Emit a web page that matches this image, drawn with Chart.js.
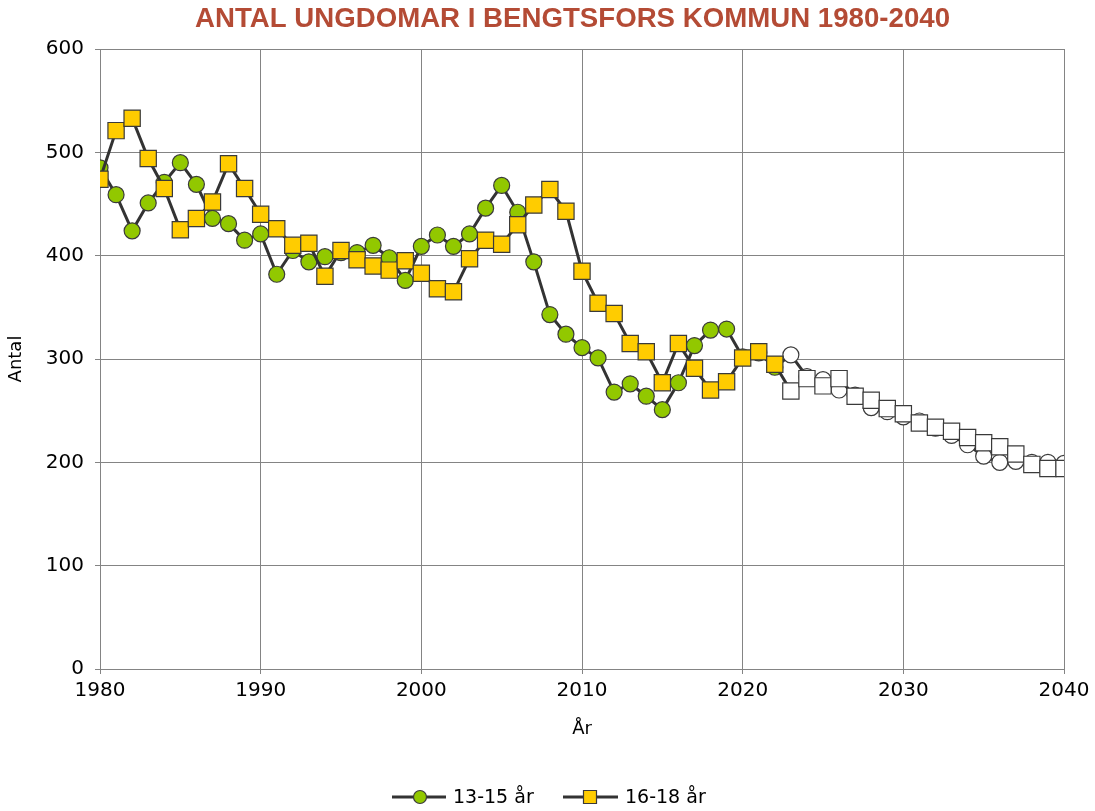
<!DOCTYPE html>
<html><head><meta charset="utf-8">
<script src="https://cdn.jsdelivr.net/npm/chart.js@4/dist/chart.umd.min.js"></script>
<style>html,body{margin:0;padding:0;background:#fff}#wrap{width:1095px;height:811px;position:relative}</style>
</head><body><div id="wrap"><canvas id="c" width="1095" height="811"></canvas></div>
<script>
const title = "ANTAL UNGDOMAR I BENGTSFORS KOMMUN 1980-2040";
const years = [];
for (let y = 1980; y <= 2040; y++) years.push(y);
const series1Name = "13-15 år";
const series2Name = "16-18 år";
const age13_15 = [485,459,424,451,471,490,469,436,431,415,421,382,405,394,399,403,403,410,398,376,
  409,420,409,421,446,468,442,394,343,324,311,301,268,276,264,251,277,313,328,329,
  302,306,292,304,283,280,270,265,253,249,244,240,233,226,217,206,200,201,200,200,199];
const age16_18 = [474,521,533,494,465,425,436,452,489,465,440,426,410,412,380,405,396,390,386,395,
  383,368,365,397,415,411,430,449,464,443,385,354,344,315,307,277,315,291,270,278,
  301,307,295,269,281,274,281,264,260,252,247,238,234,230,224,219,215,208,198,194,194];
const firstProjectionYear = 2023;
const yTicks = [0,100,200,300,400,500,600];
const xTicks = [1980,1990,2000,2010,2020,2030,2040];

const green = '#92c800', yellow = '#ffcc00', edge = '#3a3a3a', lineCol = '#333333';
const pts = arr => arr.map((v,i)=>({x: years[i], y: v}));
const fillFn = base => ctx => (years[ctx.dataIndex] >= firstProjectionYear ? '#ffffff' : base);

const legendTitlePlugin = {
  id: 'legendTitle',
  afterDraw(chart) {
    const ctx = chart.ctx;
    ctx.save();
    ctx.font = 'bold 27px "Liberation Sans Narrow", "Liberation Sans", sans-serif';
    ctx.fillStyle = '#b44b35';
    ctx.textBaseline = 'alphabetic';
    const w = ctx.measureText(title).width;
    const target = 755;
    ctx.translate(195, 27);
    ctx.scale(target / w, 1);
    ctx.fillText(title, 0, 0);
    ctx.restore();
    ctx.save();
    const y = 797;
    ctx.font = '19px "DejaVu Sans", sans-serif';
    ctx.textBaseline = 'middle';
    const items = [
      {x0: 392, x1: 446, mx: 420, text: series1Name, style: 'circle', col: green, tx: 453},
      {x0: 563, x1: 618, mx: 590, text: series2Name, style: 'rect', col: yellow, tx: 625}
    ];
    items.forEach(it => {
      ctx.strokeStyle = lineCol; ctx.lineWidth = 3;
      ctx.beginPath(); ctx.moveTo(it.x0, y); ctx.lineTo(it.x1, y); ctx.stroke();
      ctx.fillStyle = it.col; ctx.strokeStyle = edge; ctx.lineWidth = 1.2;
      ctx.beginPath();
      if (it.style === 'circle') ctx.arc(it.mx, y, 6.5, 0, Math.PI*2);
      else ctx.rect(it.mx - 6.5, y - 6.5, 13, 13);
      ctx.fill(); ctx.stroke();
      ctx.fillStyle = '#000';
      ctx.fillText(it.text, it.tx, y + 1);
    });
    ctx.restore();
  }
};

new Chart(document.getElementById('c'), {
  type: 'line',
  data: {
    datasets: [
      {
        label: series1Name, data: pts(age13_15), order: 2,
        borderColor: lineCol, borderWidth: 3, tension: 0,
        pointStyle: 'circle', pointRadius: 8, pointBorderWidth: 1.2,
        pointBackgroundColor: fillFn(green), pointBorderColor: edge
      },
      {
        label: series2Name, data: pts(age16_18), order: 1,
        borderColor: lineCol, borderWidth: 3, tension: 0,
        pointStyle: 'rect', pointRadius: 11.5, pointBorderWidth: 1.2,
        pointBackgroundColor: fillFn(yellow), pointBorderColor: edge
      }
    ]
  },
  options: {
    responsive: false, animation: false,
    events: [],
    layout: {padding: {left: 0, right: 31, top: 49, bottom: 62}},
    plugins: {legend: {display: false}, title: {display: false}, tooltip: {enabled: false}},
    scales: {
      x: {
        type: 'linear', min: 1980, max: 2040,
        afterBuildTicks: s => { s.ticks = xTicks.map(v => ({value: v})); },
        afterFit: s => { s.height = 80; },
        ticks: {color: '#000', font: {family: '"DejaVu Sans", sans-serif', size: 20}, padding: 5, maxRotation: 0, callback: v => String(v)},
        grid: {color: '#848484', lineWidth: 1, tickLength: 5, drawTicks: true},
        border: {color: '#848484', width: 1},
        title: {display: true, text: 'År', color: '#000', font: {family: '"DejaVu Sans", sans-serif', size: 18}, padding: {top: 0, bottom: 9}}
      },
      y: {
        min: 0, max: 600,
        afterBuildTicks: s => { s.ticks = yTicks.map(v => ({value: v})); },
        afterFit: s => { s.width = 100; },
        ticks: {color: '#000', font: {family: '"DejaVu Sans", sans-serif', size: 20}, padding: 11, callback: v => String(v)},
        grid: {color: '#848484', lineWidth: 1, tickLength: 5},
        border: {color: '#848484', width: 1},
        title: {display: true, text: 'Antal', color: '#000', font: {family: '"DejaVu Sans", sans-serif', size: 18}, padding: {top: 6, bottom: 6}}
      }
    }
  },
  plugins: [legendTitlePlugin]
});
</script></body></html>
